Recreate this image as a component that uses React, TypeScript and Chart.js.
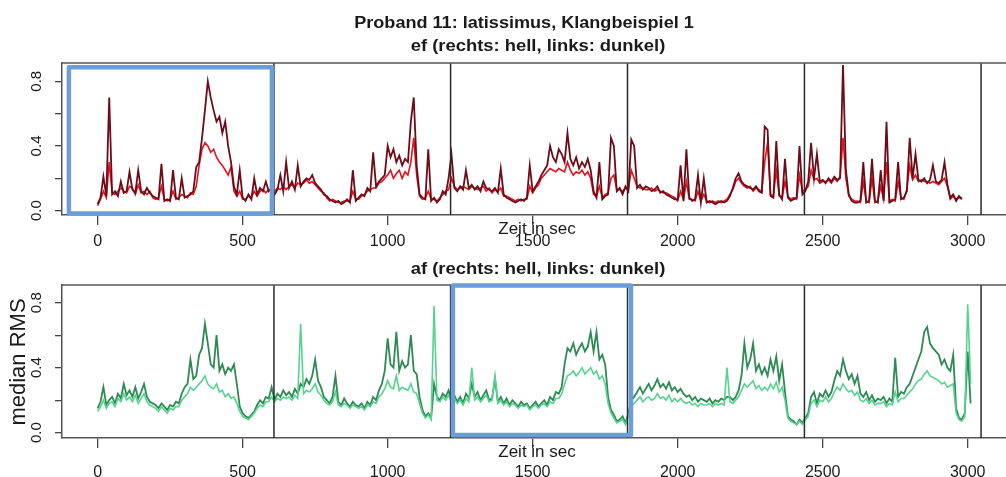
import React, { useEffect, useRef } from "react";
import { Chart, registerables } from "chart.js";

Chart.register(...registerables);

// ---------- data (median RMS, one sample every 10 s) ----------
const sampleStart = 0;
const sampleStep = 10;

const efDark = [
  0.04, 0.08, 0.21, 0.09, 0.70, 0.10, 0.12, 0.09, 0.18, 0.11,
  0.12, 0.24, 0.13, 0.11, 0.25, 0.12, 0.10, 0.14, 0.11, 0.09,
  0.08, 0.07, 0.29, 0.06, 0.07, 0.06, 0.25, 0.08, 0.07, 0.20,
  0.08, 0.09, 0.10, 0.12, 0.27, 0.30, 0.45, 0.62, 0.80, 0.70,
  0.62, 0.55, 0.58, 0.48, 0.55, 0.40, 0.30, 0.15, 0.10, 0.25,
  0.08, 0.06, 0.10, 0.07, 0.20, 0.10, 0.14, 0.12, 0.18, 0.12,
  0.14, 0.10, 0.13, 0.22, 0.12, 0.30, 0.14, 0.18, 0.13, 0.28,
  0.15, 0.18, 0.20, 0.19, 0.22, 0.17, 0.15, 0.13, 0.10, 0.09,
  0.07, 0.06, 0.05, 0.06, 0.04, 0.05, 0.07, 0.05, 0.25, 0.06,
  0.08, 0.10, 0.09, 0.14, 0.12, 0.36, 0.15, 0.18, 0.20, 0.22,
  0.40, 0.33, 0.38, 0.30, 0.34, 0.28, 0.32, 0.30, 0.55, 0.70,
  0.28, 0.10, 0.08, 0.07, 0.38, 0.06, 0.08, 0.05, 0.07, 0.12,
  0.10, 0.20, 0.35, 0.14, 0.12, 0.15, 0.13, 0.25, 0.14, 0.16,
  0.13, 0.15, 0.12, 0.18, 0.14, 0.13, 0.12, 0.14, 0.11, 0.26,
  0.10, 0.08, 0.07, 0.06, 0.05, 0.06, 0.07, 0.06, 0.08, 0.28,
  0.12, 0.15, 0.18, 0.22, 0.25, 0.28, 0.40, 0.33, 0.30, 0.38,
  0.35, 0.30, 0.48, 0.32, 0.28, 0.33, 0.26, 0.30, 0.27, 0.32,
  0.25, 0.12, 0.08, 0.30, 0.07, 0.09, 0.10, 0.45, 0.40, 0.12,
  0.14, 0.10, 0.15, 0.12, 0.44, 0.40, 0.14, 0.16, 0.13, 0.15,
  0.14, 0.12, 0.13, 0.15, 0.11, 0.12, 0.10, 0.09, 0.08, 0.07,
  0.07, 0.28, 0.06, 0.38, 0.08, 0.06, 0.07, 0.22, 0.05, 0.20,
  0.05, 0.06, 0.05, 0.04, 0.05, 0.06, 0.05, 0.06, 0.09, 0.14,
  0.20, 0.23, 0.18, 0.16, 0.15, 0.14, 0.13, 0.15, 0.12, 0.11,
  0.52, 0.50, 0.09, 0.08, 0.43, 0.10, 0.07, 0.32, 0.08, 0.06,
  0.07, 0.08, 0.40, 0.10, 0.12, 0.18, 0.42, 0.20, 0.35, 0.18,
  0.19, 0.17, 0.20, 0.18, 0.21, 0.19, 0.20, 0.90, 0.25, 0.10,
  0.06, 0.05, 0.05, 0.06, 0.30, 0.05, 0.06, 0.32, 0.06, 0.05,
  0.25, 0.06, 0.55, 0.05, 0.06, 0.07, 0.30, 0.07, 0.08, 0.12,
  0.45, 0.20, 0.35, 0.19, 0.18, 0.20, 0.17, 0.19, 0.28, 0.18,
  0.17, 0.19, 0.30, 0.16, 0.08, 0.10, 0.06, 0.09, 0.07,
];

const efLight = [
  0.03, 0.07, 0.12, 0.08, 0.30, 0.11, 0.10, 0.12, 0.14, 0.12,
  0.11, 0.15, 0.14, 0.10, 0.16, 0.11, 0.12, 0.10, 0.12, 0.08,
  0.07, 0.08, 0.15, 0.07, 0.06, 0.07, 0.12, 0.07, 0.08, 0.10,
  0.09, 0.08, 0.11, 0.10, 0.15, 0.28, 0.38, 0.42, 0.40, 0.36,
  0.38, 0.33, 0.30, 0.28, 0.25, 0.22, 0.27, 0.12, 0.09, 0.12,
  0.07, 0.07, 0.09, 0.08, 0.12, 0.09, 0.12, 0.13, 0.11, 0.13,
  0.12, 0.12, 0.14, 0.13, 0.15, 0.13, 0.15, 0.16, 0.14, 0.17,
  0.16, 0.17, 0.19, 0.17, 0.18, 0.16, 0.14, 0.12, 0.11, 0.08,
  0.06, 0.07, 0.06, 0.05, 0.05, 0.06, 0.06, 0.06, 0.12, 0.07,
  0.07, 0.09, 0.10, 0.12, 0.13, 0.14, 0.14, 0.17, 0.18, 0.20,
  0.22, 0.25, 0.20, 0.23, 0.25, 0.20, 0.24, 0.22, 0.30, 0.45,
  0.22, 0.09, 0.07, 0.08, 0.12, 0.07, 0.07, 0.06, 0.08, 0.10,
  0.12, 0.13, 0.20, 0.15, 0.13, 0.14, 0.15, 0.14, 0.13, 0.15,
  0.14, 0.13, 0.14, 0.15, 0.12, 0.14, 0.11, 0.13, 0.12, 0.14,
  0.09, 0.09, 0.08, 0.07, 0.06, 0.07, 0.06, 0.07, 0.07, 0.15,
  0.11, 0.14, 0.16, 0.20, 0.22, 0.24, 0.26, 0.25, 0.24, 0.26,
  0.25, 0.24, 0.30, 0.25, 0.22, 0.24, 0.23, 0.25, 0.22, 0.24,
  0.20, 0.10, 0.09, 0.15, 0.08, 0.10, 0.11, 0.20, 0.22, 0.13,
  0.13, 0.12, 0.14, 0.13, 0.25, 0.20, 0.15, 0.14, 0.14, 0.13,
  0.13, 0.14, 0.12, 0.13, 0.12, 0.11, 0.11, 0.10, 0.09, 0.08,
  0.06, 0.12, 0.07, 0.18, 0.07, 0.07, 0.06, 0.12, 0.06, 0.10,
  0.06, 0.05, 0.06, 0.05, 0.06, 0.05, 0.06, 0.07, 0.10, 0.13,
  0.18, 0.20, 0.17, 0.15, 0.14, 0.15, 0.12, 0.14, 0.13, 0.12,
  0.30, 0.42, 0.10, 0.09, 0.25, 0.09, 0.08, 0.18, 0.09, 0.07,
  0.08, 0.07, 0.22, 0.12, 0.13, 0.15, 0.25, 0.19, 0.20, 0.17,
  0.18, 0.18, 0.19, 0.17, 0.20, 0.18, 0.21, 0.45, 0.20, 0.09,
  0.07, 0.06, 0.06, 0.05, 0.18, 0.06, 0.05, 0.20, 0.05, 0.06,
  0.15, 0.07, 0.30, 0.06, 0.07, 0.06, 0.18, 0.08, 0.07, 0.13,
  0.28, 0.19, 0.22, 0.18, 0.19, 0.18, 0.18, 0.17, 0.18, 0.17,
  0.16, 0.18, 0.20, 0.15, 0.07, 0.09, 0.07, 0.08, 0.08,
];

const afDark = [
  0.15, 0.19, 0.28, 0.17, 0.20, 0.22, 0.18, 0.24, 0.21, 0.30,
  0.23, 0.26, 0.22, 0.28, 0.21, 0.25, 0.30, 0.22, 0.19, 0.18,
  0.17, 0.15, 0.18, 0.16, 0.14, 0.17, 0.16, 0.19, 0.18, 0.24,
  0.28, 0.30, 0.45, 0.33, 0.35, 0.48, 0.52, 0.67, 0.55, 0.42,
  0.40, 0.60, 0.38, 0.42, 0.36, 0.40, 0.38, 0.42, 0.30, 0.16,
  0.12, 0.10, 0.09, 0.11, 0.13, 0.17, 0.20, 0.18, 0.22, 0.21,
  0.28, 0.20, 0.24, 0.22, 0.26, 0.23, 0.25, 0.22, 0.27, 0.24,
  0.30, 0.28, 0.33, 0.30, 0.35, 0.45, 0.32, 0.28, 0.22, 0.20,
  0.18, 0.22, 0.35, 0.19, 0.17, 0.21, 0.18, 0.16, 0.19, 0.17,
  0.16, 0.18, 0.15, 0.19, 0.17, 0.22, 0.20, 0.26, 0.30, 0.38,
  0.58, 0.42, 0.40, 0.62, 0.38, 0.44, 0.40, 0.42, 0.60, 0.38,
  0.36, 0.22, 0.14, 0.10, 0.12, 0.09, 0.30, 0.22, 0.20, 0.24,
  0.22, 0.26, 0.20, 0.23, 0.19, 0.22, 0.18, 0.24, 0.21, 0.30,
  0.22, 0.25, 0.20, 0.23, 0.26, 0.20, 0.21, 0.33, 0.19, 0.22,
  0.18, 0.21, 0.17, 0.20, 0.18, 0.16, 0.19, 0.17, 0.18, 0.15,
  0.17, 0.19, 0.16, 0.18, 0.20, 0.17, 0.22, 0.20, 0.25, 0.24,
  0.28, 0.42, 0.52, 0.50, 0.55, 0.48, 0.52, 0.55, 0.50, 0.53,
  0.62, 0.50, 0.62, 0.45, 0.48, 0.42, 0.22, 0.14, 0.11, 0.07,
  0.08, 0.10, 0.06, 0.12, 0.20, 0.22, 0.25, 0.28, 0.24, 0.27,
  0.30, 0.26, 0.29, 0.33, 0.28, 0.30, 0.27, 0.31, 0.26, 0.28,
  0.25, 0.27, 0.24, 0.22, 0.23, 0.20, 0.22, 0.19, 0.21, 0.20,
  0.19, 0.21, 0.18, 0.20, 0.19, 0.21, 0.20, 0.22, 0.22, 0.20,
  0.22, 0.26, 0.35, 0.55, 0.40, 0.45, 0.55, 0.38, 0.42, 0.36,
  0.40, 0.35, 0.45, 0.38, 0.47, 0.32, 0.42, 0.25, 0.10, 0.08,
  0.07, 0.05, 0.08, 0.06, 0.09, 0.12, 0.22, 0.25, 0.18, 0.24,
  0.22, 0.26, 0.22, 0.25, 0.32, 0.38, 0.35, 0.45, 0.38, 0.33,
  0.36, 0.30, 0.35, 0.24, 0.22, 0.25, 0.20, 0.23, 0.19, 0.21,
  0.20, 0.22, 0.18, 0.21, 0.19, 0.46, 0.22, 0.25, 0.24, 0.28,
  0.30, 0.35, 0.40, 0.45, 0.50, 0.62, 0.65, 0.55, 0.52, 0.50,
  0.48, 0.42, 0.45, 0.40, 0.38, 0.48, 0.15, 0.09, 0.08, 0.12,
  0.50, 0.18,
];

const afLight = [
  0.13, 0.16, 0.20, 0.15, 0.18, 0.19, 0.16, 0.21, 0.19, 0.24,
  0.20, 0.22, 0.19, 0.23, 0.18, 0.21, 0.24, 0.19, 0.17, 0.16,
  0.15, 0.13, 0.16, 0.14, 0.12, 0.15, 0.14, 0.16, 0.16, 0.20,
  0.22, 0.24, 0.28, 0.26, 0.28, 0.30, 0.32, 0.35, 0.30, 0.28,
  0.27, 0.30, 0.25, 0.26, 0.22, 0.24, 0.21, 0.22, 0.18, 0.13,
  0.10, 0.09, 0.08, 0.10, 0.12, 0.15, 0.17, 0.16, 0.19, 0.19,
  0.22, 0.19, 0.21, 0.20, 0.22, 0.21, 0.22, 0.20, 0.23, 0.21,
  0.67, 0.24, 0.26, 0.25, 0.27, 0.30, 0.25, 0.23, 0.20, 0.18,
  0.17, 0.19, 0.25, 0.17, 0.16, 0.18, 0.17, 0.15, 0.17, 0.16,
  0.15, 0.16, 0.14, 0.17, 0.16, 0.19, 0.18, 0.22, 0.24, 0.27,
  0.32, 0.28, 0.27, 0.35, 0.26, 0.28, 0.27, 0.26, 0.30, 0.25,
  0.24, 0.18, 0.12, 0.09, 0.11, 0.08, 0.78, 0.20, 0.19, 0.22,
  0.20, 0.23, 0.19, 0.21, 0.18, 0.20, 0.17, 0.21, 0.19, 0.40,
  0.20, 0.22, 0.19, 0.21, 0.23, 0.19, 0.20, 0.35, 0.18, 0.20,
  0.17, 0.19, 0.16, 0.18, 0.17, 0.15, 0.17, 0.16, 0.17, 0.14,
  0.16, 0.17, 0.15, 0.17, 0.18, 0.16, 0.19, 0.18, 0.21, 0.21,
  0.24, 0.30, 0.35, 0.36, 0.38, 0.35, 0.37, 0.40, 0.36, 0.38,
  0.40, 0.36, 0.38, 0.33, 0.35, 0.30, 0.18, 0.12, 0.09, 0.06,
  0.07, 0.08, 0.05, 0.10, 0.16, 0.18, 0.20, 0.22, 0.19, 0.21,
  0.22, 0.20, 0.21, 0.24, 0.21, 0.22, 0.20, 0.23, 0.19, 0.21,
  0.19, 0.21, 0.19, 0.18, 0.19, 0.17, 0.18, 0.16, 0.18, 0.17,
  0.17, 0.18, 0.16, 0.18, 0.17, 0.18, 0.17, 0.40, 0.19, 0.18,
  0.20, 0.22, 0.26, 0.30, 0.28, 0.30, 0.32, 0.27, 0.29, 0.26,
  0.28, 0.26, 0.30, 0.27, 0.31, 0.25, 0.28, 0.20, 0.09, 0.07,
  0.06, 0.05, 0.07, 0.05, 0.08, 0.10, 0.18, 0.20, 0.16, 0.20,
  0.19, 0.22, 0.19, 0.21, 0.25, 0.28, 0.26, 0.30, 0.27, 0.25,
  0.26, 0.23, 0.25, 0.20, 0.19, 0.21, 0.18, 0.20, 0.17, 0.18,
  0.18, 0.19, 0.16, 0.18, 0.17, 0.25, 0.19, 0.21, 0.21, 0.23,
  0.25, 0.27, 0.30, 0.32, 0.33, 0.36, 0.38, 0.35, 0.34, 0.33,
  0.32, 0.30, 0.31, 0.28, 0.29, 0.30, 0.12, 0.08, 0.07, 0.10,
  0.79, 0.30,
];

// segment boundaries (sec) drawn as vertical lines
const segmentLines = [608, 1217, 1827, 2437, 3046];
// highlighted windows: [xFrom, xTo, yFrom, yTo]
const efHighlight = [-99, 601, -0.017, 0.886];
const afHighlight = [1225, 1839, -0.014, 0.906];

const xTicks = [0, 500, 1000, 1500, 2000, 2500, 3000];
const yTicks = [0, 0.2, 0.4, 0.6, 0.8];
const yTickLabels = ["0.0", "", "0.4", "", "0.8"];

const mainTitle = "Proband 11: latissimus, Klangbeispiel 1";
const efTitle = "ef (rechts: hell, links: dunkel)";
const afTitle = "af (rechts: hell, links: dunkel)";
const xTitle = "Zeit in sec";
const yTitle = "median RMS";

const FONT = '"Liberation Sans", Arial, Helvetica, sans-serif';

const toPoints = (arr: number[]) =>
  arr.map((v, i) => ({ x: sampleStart + i * sampleStep, y: v }));

type TextItem = {
  text: string;
  x: number;
  y: number;
  font: string;
  rotate?: boolean;
  stretch?: number;
};

function makeDecor(opts: {
  highlight: number[];
  texts: TextItem[];
  yLabelX: number;
}) {
  return {
    id: "decor",
    afterDatasetsDraw(chart: any) {
      const { ctx, chartArea: a, scales } = chart;
      const x = scales.x;
      const y = scales.y;
      ctx.save();
      ctx.beginPath();
      ctx.rect(a.left, a.top - 3, a.right - a.left, a.bottom - a.top + 6);
      ctx.clip();
      ctx.strokeStyle = "#2a2a2a";
      ctx.lineWidth = 1.5;
      segmentLines.forEach((v) => {
        const px = x.getPixelForValue(v);
        ctx.beginPath();
        ctx.moveTo(px, a.top);
        ctx.lineTo(px, a.bottom);
        ctx.stroke();
      });
      // top border of plot box
      ctx.strokeStyle = "#555";
      ctx.lineWidth = 1.5;
      ctx.beginPath();
      ctx.moveTo(a.left, a.top);
      ctx.lineTo(a.right, a.top);
      ctx.stroke();
      ctx.restore();

      // highlight box
      const [x0, x1, y0, y1] = opts.highlight;
      const px0 = x.getPixelForValue(x0);
      const px1 = x.getPixelForValue(x1);
      const py0 = y.getPixelForValue(y0);
      const py1 = y.getPixelForValue(y1);
      ctx.save();
      ctx.strokeStyle = "#6b9ed8";
      ctx.lineWidth = 4.5;
      ctx.lineJoin = "round";
      ctx.strokeRect(px0, py1, px1 - px0, py0 - py1);
      ctx.restore();
    },
    afterDraw(chart: any) {
      const { ctx, scales } = chart;
      const y = scales.y;
      ctx.save();
      ctx.fillStyle = "#1a1a1a";
      ctx.textAlign = "center";
      ctx.textBaseline = "middle";
      // rotated y tick labels
      ctx.font = `15px ${FONT}`;
      yTicks.forEach((v, i) => {
        const lbl = yTickLabels[i];
        if (!lbl) return;
        const py = y.getPixelForValue(v);
        ctx.save();
        ctx.translate(opts.yLabelX, py);
        ctx.rotate(-Math.PI / 2);
        ctx.fillText(lbl, 0, 0);
        ctx.restore();
      });
      opts.texts.forEach((t) => {
        ctx.save();
        ctx.font = t.font;
        ctx.translate(t.x, t.y);
        if (t.rotate) ctx.rotate(-Math.PI / 2);
        if (t.stretch) ctx.scale(t.stretch, 1);
        ctx.fillText(t.text, 0, 0);
        ctx.restore();
      });
      ctx.restore();
    },
  };
}

function makeConfig(
  dark: number[],
  light: number[],
  darkColor: string,
  lightColor: string,
  darkOnTop: boolean,
  yMin: number,
  yMax: number,
  padTop: number,
  xAxisHeight: number,
  tickPad: number,
  decor: any
) {
  const dsDark = {
    label: "links (dunkel)",
    data: toPoints(dark),
    borderColor: darkColor,
    borderWidth: 1.8,
    pointRadius: 0,
    tension: 0,
  };
  const dsLight = {
    label: "rechts (hell)",
    data: toPoints(light),
    borderColor: lightColor,
    borderWidth: 1.6,
    pointRadius: 0,
    tension: 0,
  };
  return {
    type: "line" as const,
    data: { datasets: darkOnTop ? [dsLight, dsDark] : [dsDark, dsLight] },
    options: {
      responsive: false,
      animation: false as const,
      events: [],
      layout: { padding: { top: padTop, left: 0, right: 0, bottom: 0 } },
      plugins: {
        legend: { display: false },
        title: { display: false },
        tooltip: { enabled: false },
      },
      scales: {
        x: {
          type: "linear" as const,
          min: -122.8,
          max: 3132,
          afterBuildTicks: (s: any) => {
            s.ticks = xTicks.map((v) => ({ value: v }));
          },
          afterFit: (s: any) => {
            s.height = xAxisHeight;
          },
          grid: {
            drawOnChartArea: false,
            drawTicks: true,
            tickLength: 10,
            color: "#444",
            lineWidth: 1.3,
          },
          border: { display: true, color: "#555", width: 1.5 },
          ticks: {
            autoSkip: false,
            maxRotation: 0,
            minRotation: 0,
            padding: tickPad,
            color: "#1a1a1a",
            font: { family: FONT, size: 16 },
            callback: (v: any) => String(v),
          },
        },
        y: {
          type: "linear" as const,
          min: yMin,
          max: yMax,
          afterBuildTicks: (s: any) => {
            s.ticks = yTicks.map((v) => ({ value: v }));
          },
          afterFit: (s: any) => {
            s.width = 62;
          },
          grid: {
            drawOnChartArea: false,
            drawTicks: true,
            tickLength: 7,
            color: "#444",
            lineWidth: 1.3,
          },
          border: { display: true, color: "#555", width: 1.5 },
          ticks: { display: false },
        },
      },
    },
    plugins: [decor],
  };
}

export default function App() {
  const topRef = useRef<HTMLCanvasElement | null>(null);
  const botRef = useRef<HTMLCanvasElement | null>(null);

  useEffect(() => {
    document.body.style.margin = "0";
    const topDecor = makeDecor({
      highlight: efHighlight,
      yLabelX: 37,
      texts: [
        { text: mainTitle, x: 524, y: 24, font: `bold 16px ${FONT}`, stretch: 1.13 },
        { text: efTitle, x: 538, y: 47, font: `bold 16px ${FONT}`, stretch: 1.15 },
        { text: xTitle, x: 537, y: 229, font: `17px ${FONT}` },
      ],
    });
    const botDecor = makeDecor({
      highlight: afHighlight,
      yLabelX: 37,
      texts: [
        { text: afTitle, x: 538, y: 20, font: `bold 16px ${FONT}`, stretch: 1.15 },
        { text: xTitle, x: 537, y: 202, font: `17px ${FONT}` },
        { text: yTitle, x: 19, y: 112, font: `22px ${FONT}`, rotate: true },
      ],
    });
    const c1 = new Chart(
      topRef.current as HTMLCanvasElement,
      makeConfig(efDark, efLight, "#6e0b16", "#e3121f", false, -0.027, 0.913, 63, 35, 7, topDecor) as any
    );
    const c2 = new Chart(
      botRef.current as HTMLCanvasElement,
      makeConfig(afDark, afLight, "#2c8a52", "#56d38e", true, -0.033, 0.909, 35, 39, 15, botDecor) as any
    );
    return () => {
      c1.destroy();
      c2.destroy();
    };
  }, []);

  return (
    <div
      style={{
        position: "absolute",
        left: 0,
        top: 0,
        width: 1006,
        height: 477,
        background: "#fff",
        overflow: "hidden",
      }}
    >
      <canvas ref={topRef} width={1006} height={250} style={{ display: "block" }} />
      <canvas ref={botRef} width={1006} height={227} style={{ display: "block" }} />
    </div>
  );
}
